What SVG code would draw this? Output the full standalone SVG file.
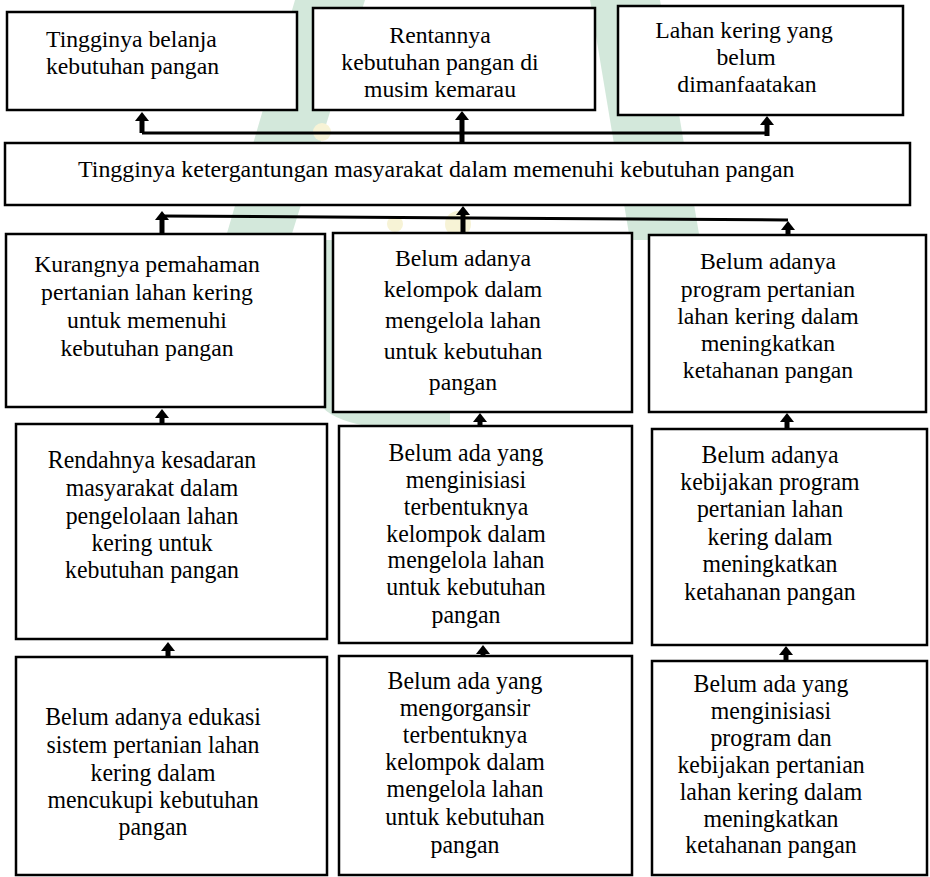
<svg xmlns="http://www.w3.org/2000/svg" width="930" height="877" viewBox="0 0 930 877">
<style>
.box{fill:#fff;stroke:#000;stroke-width:2.5}
.t{font-family:"Liberation Serif","Times New Roman",serif;font-size:23.7px;fill:#000}
.m{text-anchor:middle}
.cn{font-family:"Liberation Serif","Times New Roman",serif;font-size:25.5px;fill:#000;text-anchor:middle}
.ln{stroke:#000;stroke-width:3;fill:none}
.arr{stroke:#000;stroke-width:5;fill:none;marker-end:url(#ah)}
.wm{fill:#d3e8db}
.wy{fill:#f7f3d6}
</style>
<defs>
<marker id="ah" markerUnits="userSpaceOnUse" viewBox="0 0 9 14" markerWidth="9" markerHeight="14" refX="1" refY="7" orient="auto"><path d="M0,0 L9,7 L0,14 Z" fill="#000"/></marker>
</defs>
<rect width="930" height="877" fill="#fff"/>
<g id="watermark">
<polygon class="wm" points="295,0 365,0 290,240 225,240"/>
<polygon class="wm" points="590,0 660,0 700,240 630,240"/>
<path class="wm" d="M318,240 L342,240 L342,380 Q345,410 450,410 L450,432 Q330,432 318,400 Z"/>
<circle class="wy" cx="458" cy="224" r="13"/>
<circle class="wy" cx="322" cy="132" r="9"/>
<circle class="wy" cx="395" cy="224" r="8"/>
</g>
<g id="connectors">
<path class="ln" d="M142 133 H767"/>
<path class="ln" d="M162 216 L788 220"/>
<path class="arr" d="M142 133 V120"/>
<path class="arr" d="M462 143 V119"/>
<path class="arr" d="M767 136 V124"/>
<path class="arr" d="M162 234 V219"/>
<path class="arr" d="M463 233 V214"/>
<path class="arr" d="M788 235 V229"/>
<path class="arr" d="M162 424 V417"/>
<path class="arr" d="M480 426 V421"/>
<path class="arr" d="M787 429 V421"/>
<path class="arr" d="M168 657 V650"/>
<path class="arr" d="M483 656 V653"/>
<path class="arr" d="M786 661 V654"/>
</g>
<g id="n1">
<rect class="box" x="7" y="12" width="290" height="98"/>
<text class="t"><tspan x="46" y="47">Tingginya belanja</tspan><tspan x="46" y="74">kebutuhan pangan</tspan></text>
</g>
<g id="n2">
<rect class="box" x="313" y="8" width="282" height="102"/>
<text class="t m"><tspan x="440" y="43">Rentannya</tspan><tspan x="440" y="70">kebutuhan pangan di</tspan><tspan x="440" y="97">musim kemarau</tspan></text>
</g>
<g id="n3">
<rect class="box" x="618" y="6" width="285" height="109"/>
<text class="t m"><tspan x="744" y="38">Lahan kering yang</tspan><tspan x="746" y="65">belum</tspan><tspan x="747" y="92">dimanfaatakan</tspan></text>
</g>
<g id="main">
<rect class="box" x="5" y="143" width="905" height="62"/>
<text class="t" x="78" y="177" style="font-size:23.9px">Tingginya ketergantungan masyarakat dalam memenuhi kebutuhan pangan</text>
</g>
<g id="r2a">
<rect class="box" x="6" y="234" width="319" height="173"/>
<text class="t m"><tspan x="147" y="272">Kurangnya pemahaman</tspan><tspan x="147" y="300">pertanian lahan kering</tspan><tspan x="147" y="328">untuk memenuhi</tspan><tspan x="147" y="356">kebutuhan pangan</tspan></text>
</g>
<g id="r2b">
<rect class="box" x="333" y="233" width="299" height="179"/>
<text class="t m"><tspan x="463" y="266">Belum adanya</tspan><tspan x="463" y="297">kelompok dalam</tspan><tspan x="463" y="328">mengelola lahan</tspan><tspan x="463" y="359">untuk kebutuhan</tspan><tspan x="463" y="390">pangan</tspan></text>
</g>
<g id="r2c">
<rect class="box" x="649" y="235" width="277" height="177"/>
<text class="t m"><tspan x="768" y="269">Belum adanya</tspan><tspan x="768" y="297">program pertanian</tspan><tspan x="768" y="324">lahan kering dalam</tspan><tspan x="768" y="351">meningkatkan</tspan><tspan x="768" y="378">ketahanan pangan</tspan></text>
</g>
<g id="r3a">
<rect class="box" x="16" y="424" width="311" height="215"/>
<g transform="translate(152,0) scale(0.935,1)"><text class="cn"><tspan x="0" y="468">Rendahnya kesadaran</tspan><tspan x="0" y="496">masyarakat dalam</tspan><tspan x="0" y="524">pengelolaan lahan</tspan><tspan x="0" y="551">kering untuk</tspan><tspan x="0" y="578">kebutuhan pangan</tspan></text></g>
</g>
<g id="r3b">
<rect class="box" x="339" y="426" width="293" height="217"/>
<g transform="translate(466,0) scale(0.935,1)"><text class="cn"><tspan x="0" y="461">Belum ada yang</tspan><tspan x="0" y="488">menginisiasi</tspan><tspan x="0" y="515">terbentuknya</tspan><tspan x="0" y="542">kelompok dalam</tspan><tspan x="0" y="568">mengelola lahan</tspan><tspan x="0" y="595">untuk kebutuhan</tspan><tspan x="0" y="623">pangan</tspan></text></g>
</g>
<g id="r3c">
<rect class="box" x="652" y="429" width="275" height="216"/>
<g transform="translate(770,0) scale(0.935,1)"><text class="cn"><tspan x="0" y="463">Belum adanya</tspan><tspan x="0" y="490">kebijakan program</tspan><tspan x="0" y="517">pertanian lahan</tspan><tspan x="0" y="545">kering dalam</tspan><tspan x="0" y="572">meningkatkan</tspan><tspan x="0" y="600">ketahanan pangan</tspan></text></g>
</g>
<g id="r4a">
<rect class="box" x="16" y="657" width="311" height="218"/>
<g transform="translate(153,0) scale(0.935,1)"><text class="cn"><tspan x="0" y="725">Belum adanya edukasi</tspan><tspan x="0" y="753">sistem pertanian lahan</tspan><tspan x="0" y="781">kering dalam</tspan><tspan x="0" y="808">mencukupi kebutuhan</tspan><tspan x="0" y="835">pangan</tspan></text></g>
</g>
<g id="r4b">
<rect class="box" x="339" y="656" width="293" height="219"/>
<g transform="translate(465,0) scale(0.935,1)"><text class="cn"><tspan x="0" y="689">Belum ada yang</tspan><tspan x="0" y="716">mengorgansir</tspan><tspan x="0" y="743">terbentuknya</tspan><tspan x="0" y="770">kelompok dalam</tspan><tspan x="0" y="797">mengelola lahan</tspan><tspan x="0" y="825">untuk kebutuhan</tspan><tspan x="0" y="853">pangan</tspan></text></g>
</g>
<g id="r4c">
<rect class="box" x="652" y="661" width="275" height="214"/>
<g transform="translate(771,0) scale(0.935,1)"><text class="cn"><tspan x="0" y="692">Belum ada yang</tspan><tspan x="0" y="719">menginisiasi</tspan><tspan x="0" y="746">program dan</tspan><tspan x="0" y="773">kebijakan pertanian</tspan><tspan x="0" y="800">lahan kering dalam</tspan><tspan x="0" y="827">meningkatkan</tspan><tspan x="0" y="853">ketahanan pangan</tspan></text></g>
</g>
</svg>
